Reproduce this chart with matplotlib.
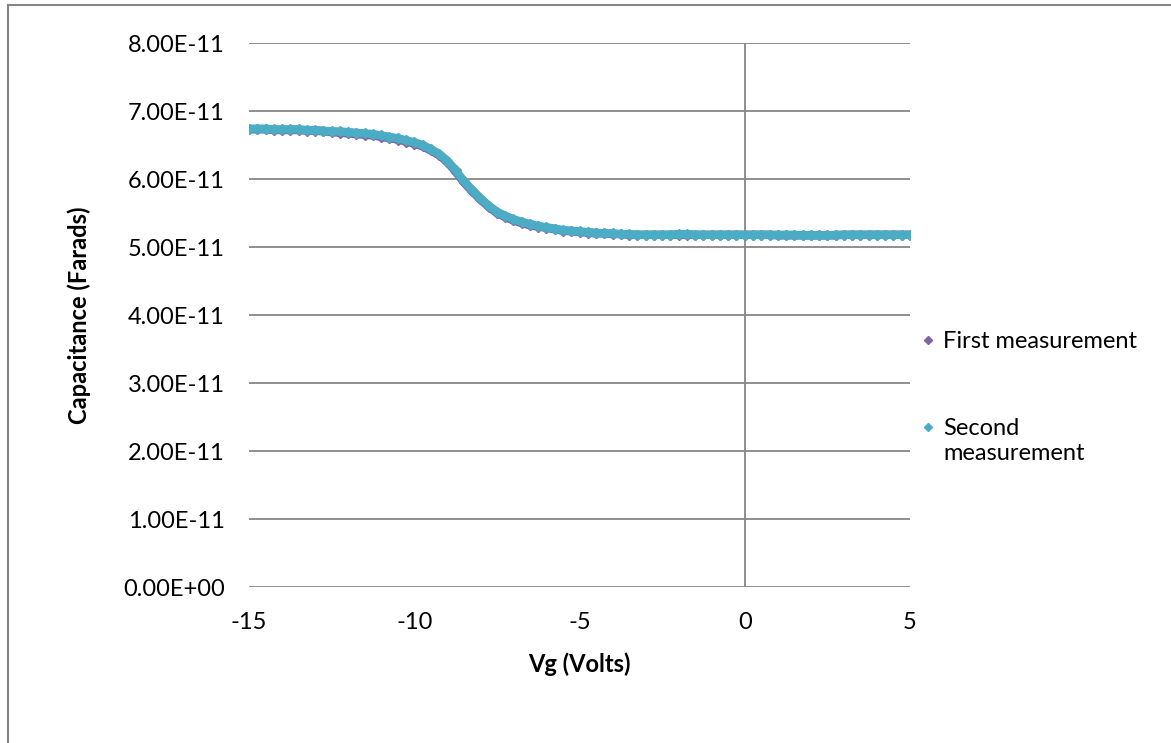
import numpy as np
import matplotlib
matplotlib.use("Agg")
import matplotlib.pyplot as plt
from matplotlib.lines import Line2D

# Gate voltage sweep (V), 0.25 V steps
vg = np.arange(-15.0, 5.0001, 0.25)

# Capacitance, in units of 1e-11 F
cap_second_e11 = [
    6.74, 6.74, 6.74, 6.73, 6.73, 6.73, 6.73, 6.72, 6.72, 6.71,
    6.70, 6.70, 6.69, 6.68, 6.67, 6.66, 6.64, 6.62, 6.60, 6.57,
    6.54, 6.50, 6.44, 6.37, 6.27, 6.13, 5.97, 5.84, 5.72, 5.61,
    5.52, 5.46, 5.41, 5.37, 5.34, 5.31, 5.29, 5.27, 5.25, 5.24,
    5.23, 5.22, 5.21, 5.20, 5.20, 5.19, 5.19, 5.18, 5.18, 5.18,
    5.18, 5.18, 5.19, 5.19, 5.18, 5.18, 5.18, 5.18, 5.18, 5.18,
    5.18, 5.18, 5.18, 5.18, 5.18, 5.18, 5.18, 5.17, 5.17, 5.17,
    5.17, 5.18, 5.18, 5.18, 5.18, 5.18, 5.18, 5.18, 5.18, 5.18,
    5.18,
]
cap_first_e11 = [
    6.73, 6.73, 6.73, 6.72, 6.72, 6.72, 6.72, 6.71, 6.71, 6.70,
    6.69, 6.68, 6.67, 6.66, 6.65, 6.64, 6.62, 6.60, 6.58, 6.55,
    6.52, 6.48, 6.42, 6.35, 6.25, 6.11, 5.95, 5.82, 5.70, 5.59,
    5.50, 5.44, 5.39, 5.35, 5.32, 5.30, 5.28, 5.26, 5.24, 5.23,
    5.22, 5.21, 5.20, 5.20, 5.19, 5.19, 5.18, 5.18, 5.18, 5.18,
    5.18, 5.18, 5.18, 5.18, 5.18, 5.18, 5.18, 5.18, 5.18, 5.18,
    5.18, 5.18, 5.18, 5.18, 5.17, 5.17, 5.17, 5.17, 5.17, 5.17,
    5.17, 5.17, 5.18, 5.18, 5.18, 5.18, 5.18, 5.18, 5.18, 5.18,
    5.18,
]
cap_first = np.array(cap_first_e11) * 1e-11
cap_second = np.array(cap_second_e11) * 1e-11

series_names = ["First measurement", "Second\nmeasurement"]
series_colors = ["#8064A2", "#4BACC6"]

x_ticks = [-15, -10, -5, 0, 5]
y_ticks = [i * 1e-11 for i in range(9)]
y_tick_labels = ["0.00E+00", "1.00E-11", "2.00E-11", "3.00E-11", "4.00E-11",
                 "5.00E-11", "6.00E-11", "7.00E-11", "8.00E-11"]

FONT = "Lato"
FS = 17
GRID = "#868686"

fig = plt.figure(figsize=(11.71, 7.43), dpi=100)
ax = fig.add_axes([249 / 1171, 1 - 587 / 743, (910 - 249) / 1171, (587 - 43) / 743])

ax.set_xlim(-15, 5)
ax.set_ylim(0, 8e-11)

for yt in y_ticks[1:]:
    ax.axhline(yt, color=GRID, lw=1.3, zorder=1)
ax.axhline(0, color=GRID, lw=1.3, zorder=1)
ax.axvline(0, color=GRID, lw=1.3, zorder=1)

for s in ax.spines.values():
    s.set_visible(False)

for vals, col in zip([cap_first, cap_second], series_colors):
    ax.plot(vg, vals, color=col, lw=6.0, solid_capstyle="round", zorder=3)
    ax.plot(vg, vals, ls="none", marker="D", ms=5, mfc=col, mec=col, zorder=3)

ax.set_xticks(x_ticks)
ax.set_xticklabels([str(t) for t in x_ticks], fontsize=FS, family=FONT)
ax.set_yticks(y_ticks)
ax.set_yticklabels(y_tick_labels, fontsize=FS, family=FONT)
ax.tick_params(axis="both", length=0)
ax.tick_params(axis="y", pad=17.5)
ax.tick_params(axis="x", pad=18)

ax.set_xlabel("Vg (Volts)", fontsize=FS, family=FONT, fontweight="bold", labelpad=14)
ax.set_ylabel("Capacitance (Farads)", fontsize=FS, family=FONT, fontweight="bold", labelpad=23)

# legend (manual placement, marker aligned with first text line)
leg_y = [1 - 340 / 743, 1 - 427 / 743]
for name, col, yy in zip(series_names, series_colors, leg_y):
    fig.add_artist(Line2D([928 / 1171], [yy], marker="D", ms=4.5, mfc=col, mec=col,
                          ls="none", transform=fig.transFigure))
    fig.text(943 / 1171, yy + 0.012, name, fontsize=FS, family=FONT, va="top",
             ha="left", linespacing=1.25)

# outer chart border (left and top visible)
fig.add_artist(Line2D([8 / 1171, 8 / 1171], [0, 1 - 5 / 743], color=GRID, lw=1.5,
                      transform=fig.transFigure))
fig.add_artist(Line2D([8 / 1171, 1170 / 1171], [1 - 5 / 743, 1 - 5 / 743], color=GRID,
                      lw=1.5, transform=fig.transFigure))

fig.savefig("out.png", dpi=100, facecolor="white")
